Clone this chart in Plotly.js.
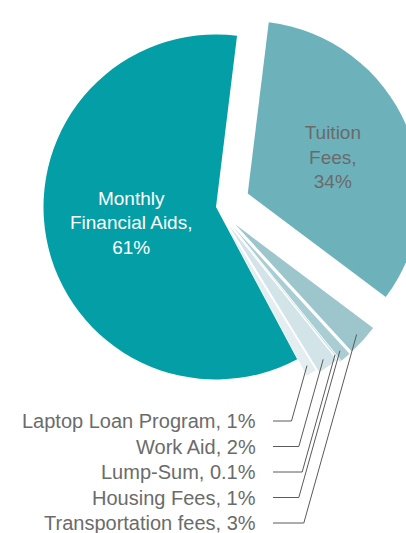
<!DOCTYPE html>
<html><head><meta charset="utf-8">
<script src="https://cdn.plot.ly/plotly-3.0.1.min.js"></script>
<style>html,body{margin:0;padding:0;overflow:hidden;background:#fff}#chart{width:432px;height:533px}</style>
</head><body><div id="chart"></div>
<script>
// ---- data ----
const categories = ['Tuition Fees', 'Transportation fees', 'Housing Fees', 'Lump-Sum', 'Work Aid', 'Laptop Loan Program', 'Monthly Financial Aids'];
const values = [34, 3, 1, 0.1, 2, 1, 61];
const valueLabels = ['34%', '3%', '1%', '0.1%', '2%', '1%', '61%'];
const insideSlices = ['Tuition Fees', 'Monthly Financial Aids'];
const labelRowOrder = ['Laptop Loan Program', 'Work Aid', 'Lump-Sum', 'Housing Fees', 'Transportation fees'];

// ---- style / layout ----
const colors = ['#6db2bb', '#9cc5cc', '#a9cdd3', '#bcd7dc', '#d3e4e8', '#e4eef1', '#049ea6'];
const insideTextColors = ['#6a6a6a', '#fff', '#fff', '#fff', '#fff', '#fff', '#ffffff'];
const pulls = [0.2, 0.15, 0.15, 0.15, 0.13, 0.11, 0];
const ROT = 7;
const W = 432, H = 533, ML = 8, MR = 8;
const domTopPx = 0, domBotPx = 414;
const rowY0 = 421, rowStep = 25.5, labelRightPx = 258, lineStartPx = 273, leaderSlope = 0.28, tipFrac = 0.95;
const FONT = 'Liberation Sans, Arial, Helvetica, sans-serif';

const texts = categories.map((c, i) => {
  if (!insideSlices.includes(c)) return '';
  const k = c.indexOf(' ');
  return c.slice(0, k) + '<br>' + c.slice(k + 1) + ',<br>' + valueLabels[i];
});
const textpos = categories.map(c => insideSlices.includes(c) ? 'inside' : 'none');

const plotW = W - ML - MR;
const toPX = px => (px - ML) / plotW;
const toPY = py => 1 - py / H;

// pie geometry (mirrors plotly's own scaling)
const boxW = plotW, boxH = domBotPx - domTopPx;
const maxPull = Math.max(...pulls);
const R = Math.min(boxW / 2, boxH / 2) / (1 + maxPull);
const cx = ML + boxW / 2, cy = (domTopPx + domBotPx) / 2;
const total = values.reduce((a, b) => a + b, 0);

const shapes = [], annotations = [];
let acc = 0;
categories.forEach((c, i) => {
  const a0 = ROT + acc / total * 360;
  acc += values[i];
  const a1 = ROT + acc / total * 360;
  const row = labelRowOrder.indexOf(c);
  if (row < 0) return;
  const mid = (a0 + a1) / 2 * Math.PI / 180;
  const d = pulls[i] * R + tipFrac * R;
  const tx = cx + d * Math.sin(mid), ty = cy - d * Math.cos(mid);
  const ey = rowY0 + row * rowStep;
  const ex = tx - leaderSlope * (ey - ty);
  shapes.push({type: 'path', xref: 'paper', yref: 'paper',
    path: `M ${toPX(lineStartPx)} ${toPY(ey)} L ${toPX(ex)} ${toPY(ey)} L ${toPX(tx)} ${toPY(ty)}`,
    line: {color: '#5a5a5a', width: 1}});
  annotations.push({xref: 'paper', yref: 'paper', x: toPX(labelRightPx), y: toPY(ey),
    xanchor: 'right', yanchor: 'middle', showarrow: false,
    text: c + ', ' + valueLabels[i], font: {family: FONT, size: 20, color: '#6b6b6b'}});
});

const trace = {
  type: 'pie', labels: categories, values: values, sort: false, direction: 'clockwise', rotation: ROT,
  pull: pulls, marker: {colors: colors, line: {width: 0}},
  text: texts, textinfo: 'text', textposition: textpos, insidetextorientation: 'horizontal',
  insidetextfont: {family: FONT, size: 19, color: insideTextColors},
  hoverinfo: 'none', showlegend: false,
  domain: {x: [0, 1], y: [toPY(domBotPx), toPY(domTopPx)]}
};

Plotly.newPlot('chart', [trace], {
  width: W, height: H, margin: {l: ML, r: MR, t: 0, b: 0},
  paper_bgcolor: '#fff', plot_bgcolor: '#fff', showlegend: false,
  shapes: shapes, annotations: annotations
}, {displayModeBar: false, staticPlot: true});
</script></body></html>
